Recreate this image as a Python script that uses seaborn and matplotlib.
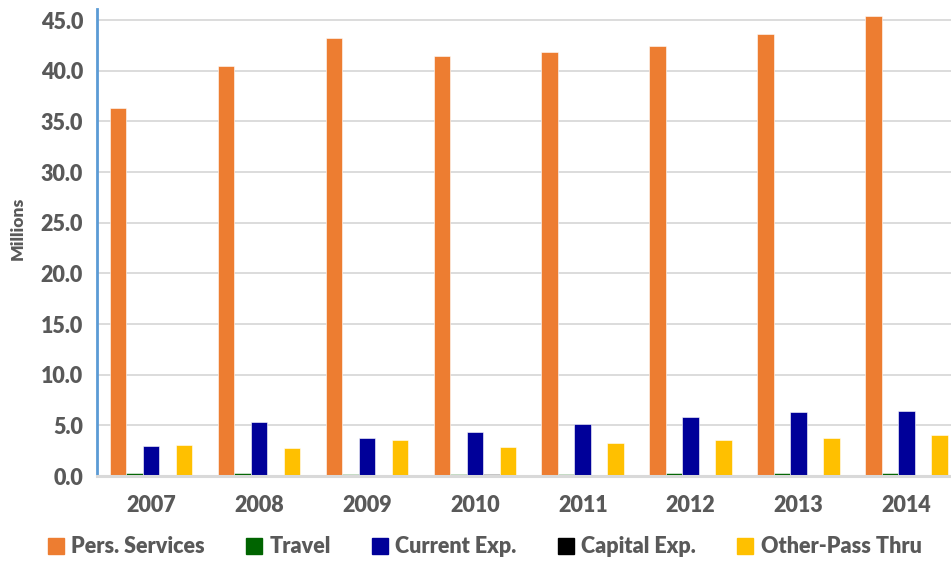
import pandas as pd
import matplotlib.pyplot as plt
import seaborn as sns
from matplotlib.lines import Line2D
from matplotlib.ticker import MultipleLocator, FormatStrFormatter

years = ["2007", "2008", "2009", "2010", "2011", "2012", "2013", "2014"]
pers_services = [36.3, 40.5, 43.2, 41.5, 41.9, 42.4, 43.6, 45.4]
travel = [0.25, 0.3, 0.2, 0.15, 0.15, 0.25, 0.3, 0.25]
current_exp = [3.0, 5.3, 3.8, 4.35, 5.1, 5.8, 6.3, 6.45]
capital_exp = [0.0, 0.0, 0.0, 0.2, 0.0, 0.0, 0.0, 0.0]
other_pass = [3.1, 2.8, 3.6, 2.9, 3.3, 3.55, 3.8, 4.05]

series = ["Pers. Services", "Travel", "Current Exp.", "Capital Exp.", "Other-Pass Thru"]
colors = ["#ED7D31", "#006400", "#000099", "#000000", "#FFC000"]

df = pd.DataFrame({"year": years,
                   series[0]: pers_services,
                   series[1]: travel,
                   series[2]: current_exp,
                   series[3]: capital_exp,
                   series[4]: other_pass})
df = df.melt(id_vars="year", var_name="series", value_name="value")

sns.set_style("white")
plt.rcParams["font.family"] = ["Lato", "DejaVu Sans"]
txt = "#595959"

fig = plt.figure(figsize=(9.51, 5.62), dpi=100)
ax = fig.add_axes([0.102, 0.153, 0.908, 0.831])

sns.barplot(data=df, x="year", y="value", hue="series", hue_order=series,
            palette=colors, saturation=1, width=0.765, gap=0, ax=ax,
            legend=False, edgecolor="white", linewidth=0.4)

ax.set_ylim(0, 46.1)
ax.set_xlim(-0.5, 7.5)
ax.yaxis.set_major_locator(MultipleLocator(5))
ax.yaxis.set_minor_locator(MultipleLocator(2.5))
ax.yaxis.set_major_formatter(FormatStrFormatter("%.1f"))
ax.grid(axis="y", which="major", color="#D9D9D9", linewidth=1.3)
ax.set_axisbelow(True)

for s in ["top", "right"]:
    ax.spines[s].set_visible(False)
ax.spines["left"].set_color("#5B9BD5")
ax.spines["left"].set_linewidth(2)
ax.spines["bottom"].set_color("#D9D9D9")
ax.spines["bottom"].set_linewidth(2.2)

ax.tick_params(axis="y", which="both", direction="in", color="#5B9BD5",
               width=1.5, length=6, labelsize=15.5, labelcolor=txt, pad=10)
ax.tick_params(axis="x", length=0, labelsize=15.5, labelcolor=txt, pad=14)
for lbl in ax.get_xticklabels() + ax.get_yticklabels():
    lbl.set_fontweight("heavy")

ax.set_xlabel("")
ax.set_ylabel("Millions", fontsize=12.5, fontweight="heavy", color=txt)
ax.yaxis.set_label_coords(-0.083, 0.53)

handles = [Line2D([], [], marker="s", linestyle="", markersize=11,
                  markerfacecolor=c, markeredgecolor=c) for c in colors]
fig.legend(handles, series, loc="center", bbox_to_anchor=(0.51, 0.027),
           ncol=5, frameon=False, handlelength=0.7, handletextpad=0.35,
           columnspacing=1.95, prop={"size": 15.5, "weight": "heavy"},
           labelcolor=txt)

fig.savefig("out.png", dpi=100)
